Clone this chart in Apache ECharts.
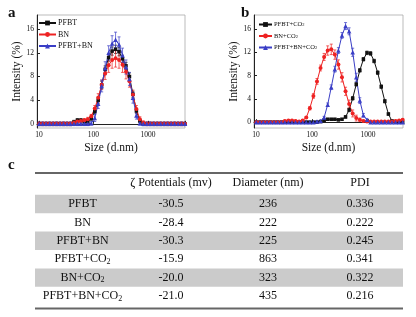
<!DOCTYPE html>
<html>
<head>
<meta charset="utf-8">
<script src="https://cdn.jsdelivr.net/npm/echarts@6/dist/echarts.min.js"></script>
<style>
  html, body { margin: 0; padding: 0; background: #fff; }
  #chart { width: 416px; height: 317px; }
</style>
</head>
<body>
<div id="chart"></div>
<script>
  // DLS size bins (nm)
  const sizes = [10.1, 11.7, 13.54, 15.69, 18.17, 21.04, 24.36, 28.21, 32.67, 37.84,
    43.82, 50.75, 58.77, 68.06, 78.82, 91.28, 105.7, 122.4, 141.8, 164.2,
    190.1, 220.2, 255.0, 295.3, 342.0, 396.1, 458.7, 531.2, 615.1, 712.4,
    825.0, 955.4, 1106, 1281, 1484, 1718, 1990, 2305, 2669, 3091,
    3580, 4145, 4801];
  const yTicks = [0, 4, 8, 12, 16];

  // panel a
  const pfbtA = [0, 0, 0, 0, 0, 0, 0, 0, 0, 0,
    0.3, 0.6, 0.6, 0.4, 0.4, 0.9, 2.1, 4.0, 6.6, 9.2,
    11.2, 12.3, 12.6, 12.2, 11.0, 9.8, 8.0, 5.0, 2.2, 0.5,
    0, 0, 0, 0, 0, 0, 0, 0, 0, 0,
    0, 0, 0];
  const pfbtAErr = [0.3, 0.3, 0.3, 0.3, 0.3, 0.3, 0.3, 0.3, 0.3, 0.3,
    0.3, 0.3, 0.3, 0.3, 0.3, 0.3, 0.4, 0.5, 0.6, 0.6,
    0.6, 0.7, 0.7, 0.7, 0.6, 0.6, 0.6, 0.5, 0.4, 0.3,
    0.3, 0.3, 0.3, 0.3, 0.3, 0.3, 0.3, 0.3, 0.3, 0.3,
    0.3, 0.3, 0.3];
  const bnA = [0, 0, 0, 0, 0, 0, 0, 0, 0, 0,
    0.2, 0.4, 0.5, 0.6, 0.8, 1.3, 2.6, 4.4, 6.6, 8.5,
    9.9, 10.8, 11.1, 10.8, 10.0, 8.8, 7.2, 4.9, 2.5, 0.8,
    0.2, 0, 0, 0, 0, 0, 0, 0, 0, 0,
    0, 0, 0];
  const bnAErr = [0.3, 0.3, 0.3, 0.3, 0.3, 0.3, 0.3, 0.3, 0.3, 0.3,
    0.3, 0.3, 0.3, 0.3, 0.3, 0.3, 0.5, 0.7, 0.8, 1.0,
    1.2, 1.4, 1.5, 1.4, 1.3, 1.2, 1.0, 0.8, 0.6, 0.4,
    0.3, 0.3, 0.3, 0.3, 0.3, 0.3, 0.3, 0.3, 0.3, 0.3,
    0.3, 0.3, 0.3];
  const mixA = [0, 0, 0, 0, 0, 0, 0, 0, 0, 0,
    0, 0, 0, 0, 0, 0.1, 1.0, 3.4, 6.4, 9.4,
    12.0, 13.6, 14.2, 13.4, 11.6, 9.6, 7.6, 4.4, 1.4, 0.1,
    0, 0, 0, 0, 0, 0, 0, 0, 0, 0,
    0, 0, 0];
  const mixAErr = [0.3, 0.3, 0.3, 0.3, 0.3, 0.3, 0.3, 0.3, 0.3, 0.3,
    0.3, 0.3, 0.3, 0.3, 0.3, 0.3, 0.6, 0.8, 1.0, 1.1,
    1.2, 1.3, 1.3, 1.3, 1.2, 1.2, 1.1, 0.9, 0.6, 0.3,
    0.3, 0.3, 0.3, 0.3, 0.3, 0.3, 0.3, 0.3, 0.3, 0.3,
    0.3, 0.3, 0.3];

  // panel b
  const pfbtB = [0, 0, 0, 0, 0, 0, 0, 0, 0, 0,
    0, 0, 0, 0, 0, 0, 0, 0, 0.1, 0.3,
    0.5, 0.5, 0.5, 0.4, 0.5, 0.9, 2.1, 4.1, 6.5, 8.9,
    10.8, 11.9, 11.8, 10.5, 8.5, 6.1, 3.6, 1.4, 0.2, 0,
    0, 0, 0];
  const pfbtBErr = [0.15, 0.15, 0.15, 0.15, 0.15, 0.15, 0.15, 0.15, 0.15, 0.15,
    0.15, 0.15, 0.15, 0.15, 0.15, 0.15, 0.15, 0.15, 0.15, 0.15,
    0.15, 0.15, 0.15, 0.15, 0.15, 0.2, 0.3, 0.3, 0.3, 0.3,
    0.3, 0.3, 0.3, 0.3, 0.3, 0.3, 0.3, 0.2, 0.2, 0.15,
    0.15, 0.15, 0.15];
  const bnB = [0, 0, 0, 0, 0, 0, 0, 0, 0.2, 0.3,
    0.3, 0.2, 0.1, 0.3, 0.8, 2.4, 4.5, 7.0, 9.3, 11.2,
    12.3, 12.5, 11.6, 9.9, 7.7, 5.3, 3.1, 1.5, 0.7, 0.4,
    0.2, 0.1, 0.1, 0.1, 0.1, 0.1, 0.1, 0.1, 0.1, 0.2,
    0.3, 0.4, 0.3];
  const bnBErr = [0.15, 0.15, 0.15, 0.15, 0.15, 0.15, 0.15, 0.15, 0.15, 0.15,
    0.15, 0.15, 0.15, 0.15, 0.15, 0.3, 0.4, 0.5, 0.5, 0.6,
    0.8, 0.9, 0.8, 0.8, 0.8, 0.7, 0.7, 0.6, 0.5, 0.3,
    0.15, 0.15, 0.15, 0.15, 0.15, 0.15, 0.15, 0.15, 0.15, 0.15,
    0.15, 0.15, 0.15];
  const mixB = [0, 0, 0, 0, 0, 0, 0, 0, 0, 0,
    0, 0, 0, 0, 0, 0, 0, 0.1, 0.2, 0.8,
    3.0, 6.0, 9.1, 12.3, 14.9, 16.5, 15.6, 12.0, 7.7, 3.7,
    1.2, 0.4, 0, 0, 0, 0, 0, 0, 0, 0,
    0, 0, 0];
  const mixBErr = [0.15, 0.15, 0.15, 0.15, 0.15, 0.15, 0.15, 0.15, 0.15, 0.15,
    0.15, 0.15, 0.15, 0.15, 0.15, 0.15, 0.15, 0.15, 0.15, 0.2,
    0.3, 0.4, 0.5, 0.5, 0.5, 0.6, 0.6, 0.7, 0.7, 0.5,
    0.3, 0.2, 0.15, 0.15, 0.15, 0.15, 0.15, 0.15, 0.15, 0.15,
    0.15, 0.15, 0.15];

  // table c
  const tableHead = ['', 'ζ Potentials (mv)', 'Diameter (nm)', 'PDI'];
  const rowNames = ['PFBT', 'BN', 'PFBT+BN', 'PFBT+CO2', 'BN+CO2', 'PFBT+BN+CO2'];
  const zetaVals = ['-30.5', '-28.4', '-30.3', '-15.9', '-20.0', '-21.0'];
  const diamVals = ['236', '222', '225', '863', '323', '435'];
  const pdiVals = ['0.336', '0.222', '0.245', '0.341', '0.322', '0.216'];

  const serif = "'Liberation Serif', 'Times New Roman', serif";
  const ink = '#111';
  const cBlack = '#111111', cRed = '#ee2222', cBlue = '#3a3ec6';

  const chart = echarts.init(document.getElementById('chart'), null, { renderer: 'canvas' });

  const sub = s => s.replace('CO2', 'CO{s|2}');

  function lineSeries(name, vals, color, symbol, size, gi) {
    return {
      name: name, type: 'line', xAxisIndex: gi, yAxisIndex: gi,
      data: sizes.map((s, i) => [s, vals[i]]),
      symbol: symbol, symbolSize: size, showAllSymbol: true,
      itemStyle: { color: color },
      lineStyle: { color: color, width: 1 },
      z: 3, clip: true
    };
  }

  function errSeries(vals, errs, color, gi) {
    return {
      type: 'custom', xAxisIndex: gi, yAxisIndex: gi, silent: true, z: 2, clip: true,
      data: sizes.map((s, i) => [s, vals[i] - errs[i], vals[i] + errs[i]]),
      encode: { x: 0, y: [1, 2] },
      renderItem(params, api) {
        const lo = api.coord([api.value(0), api.value(1)]);
        const hi = api.coord([api.value(0), api.value(2)]);
        const w = 1.5;
        const st = { stroke: color, lineWidth: 0.7 };
        return {
          type: 'group',
          children: [
            { type: 'line', shape: { x1: lo[0], y1: lo[1], x2: hi[0], y2: hi[1] }, style: st },
            { type: 'line', shape: { x1: lo[0] - w, y1: lo[1], x2: lo[0] + w, y2: lo[1] }, style: st },
            { type: 'line', shape: { x1: hi[0] - w, y1: hi[1], x2: hi[0] + w, y2: hi[1] }, style: st }
          ]
        };
      }
    };
  }

  function xAxisOf(gi, max) {
    return {
      type: 'log', logBase: 10, gridIndex: gi, min: 9.2, max: max,
      axisLine: { show: true, lineStyle: { color: '#222', width: 1 } },
      axisTick: { show: true, inside: true, length: 3, lineStyle: { color: '#222' } },
      axisLabel: {
        fontSize: 7.5, color: ink, fontFamily: serif, margin: 3,
        formatter: v => {
          const l = Math.log10(v);
          return Math.abs(l - Math.round(l)) < 1e-6 ? String(Math.round(v)) : '';
        }
      },
      splitLine: { show: false },
      name: 'Size (d.nm)', nameLocation: 'middle', nameGap: 14,
      nameTextStyle: { fontSize: 11.5, fontFamily: serif, color: ink }
    };
  }

  function yAxisOf(gi, min, gap) {
    return {
      type: 'value', gridIndex: gi, min: min, max: 18.4,
      axisLine: { show: true, lineStyle: { color: '#222', width: 1 } },
      axisTick: { show: true, inside: true, length: 3, customValues: yTicks, lineStyle: { color: '#222' } },
      axisLabel: { customValues: yTicks, fontSize: 7.5, color: ink, fontFamily: serif, margin: 3 },
      splitLine: { show: false },
      name: 'Intensity (%)', nameLocation: 'middle', nameGap: gap, nameRotate: 90,
      nameTextStyle: { fontSize: 11.5, fontFamily: serif, color: ink }
    };
  }

  // table graphics
  const colX = [82.5, 171, 268, 360];
  const rowY0 = 204, rowH = 18.4;
  const cellText = (x, y, t) => ({
    type: 'text', x: x, y: y,
    style: {
      text: sub(t), align: 'center', verticalAlign: 'middle',
      fontSize: 12, fontFamily: serif, fill: ink,
      rich: { s: { fontSize: 8, fontFamily: serif, fill: ink, verticalAlign: 'bottom', padding: [5, 0, 0, 0] } }
    }
  });
  const tableEls = [];
  rowNames.forEach((n, i) => {
    if (i % 2 === 0) {
      tableEls.push({ type: 'rect', shape: { x: 35, y: rowY0 + rowH * i - rowH / 2, width: 368, height: rowH },
        style: { fill: '#cbcbcb' } });
    }
  });
  tableEls.push({ type: 'line', shape: { x1: 35, y1: 173, x2: 403, y2: 173 }, style: { stroke: '#666', lineWidth: 1.8 } });
  tableEls.push({ type: 'line', shape: { x1: 35, y1: 308.5, x2: 403, y2: 308.5 }, style: { stroke: '#666', lineWidth: 1.8 } });
  tableHead.forEach((h, j) => { if (h) tableEls.push(cellText(colX[j], 183, h)); });
  rowNames.forEach((n, i) => {
    const y = rowY0 + rowH * i;
    tableEls.push(cellText(colX[0], y, n));
    tableEls.push(cellText(colX[1], y, zetaVals[i]));
    tableEls.push(cellText(colX[2], y, diamVals[i]));
    tableEls.push(cellText(colX[3], y, pdiVals[i]));
  });

  const letter = (t, x, y) => ({
    type: 'text', x: x, y: y,
    style: { text: t, fontSize: 15, fontWeight: 'bold', fontFamily: serif, fill: '#111', verticalAlign: 'middle' }
  });

  const option = {
    animation: false,
    backgroundColor: '#fff',
    textStyle: { fontFamily: serif },
    grid: [
      { left: 37, top: 15, width: 148, height: 113, show: true, borderColor: '#aaa', borderWidth: 0.8 },
      { left: 254, top: 15, width: 149, height: 113, show: true, borderColor: '#aaa', borderWidth: 0.8 }
    ],
    xAxis: [xAxisOf(0, 4800), xAxisOf(1, 4200)],
    yAxis: [yAxisOf(0, -0.7, 14), yAxisOf(1, -1.0, 12)],
    legend: [
      {
        data: ['PFBT', 'BN', 'PFBT+BN'], orient: 'vertical', left: 38, top: 19,
        itemWidth: 17, itemHeight: 6, itemGap: 3.5, padding: 0,
        textStyle: { fontSize: 8, fontFamily: serif, color: ink, lineHeight: 6, padding: [0, 0, 0, -3] }
      },
      {
        data: ['PFBT+CO2', 'BN+CO2', 'PFBT+BN+CO2'], orient: 'vertical', left: 258, top: 21,
        itemWidth: 13, itemHeight: 6, itemGap: 4.5, padding: 0,
        formatter: sub,
        textStyle: {
          fontSize: 6.5, fontFamily: serif, color: ink, lineHeight: 6, padding: [0, 0, 0, -3],
          rich: { s: { fontSize: 4.5, fontFamily: serif, color: ink, verticalAlign: 'bottom', padding: [3, 0, 0, 0] } }
        }
      }
    ],
    series: [
      errSeries(pfbtA, pfbtAErr, cBlack, 0),
      errSeries(bnA, bnAErr, cRed, 0),
      errSeries(mixA, mixAErr, cBlue, 0),
      lineSeries('PFBT', pfbtA, cBlack, 'rect', 3.5, 0),
      lineSeries('BN', bnA, cRed, 'circle', 4, 0),
      lineSeries('PFBT+BN', mixA, cBlue, 'triangle', 4.5, 0),
      errSeries(pfbtB, pfbtBErr, cBlack, 1),
      errSeries(bnB, bnBErr, cRed, 1),
      errSeries(mixB, mixBErr, cBlue, 1),
      lineSeries('PFBT+CO2', pfbtB, cBlack, 'rect', 3.5, 1),
      lineSeries('BN+CO2', bnB, cRed, 'circle', 4, 1),
      lineSeries('PFBT+BN+CO2', mixB, cBlue, 'triangle', 4.5, 1)
    ],
    graphic: [
      letter('a', 8, 13),
      letter('b', 241, 13),
      letter('c', 8, 165)
    ].concat(tableEls)
  };

  chart.setOption(option);
</script>
</body>
</html>
